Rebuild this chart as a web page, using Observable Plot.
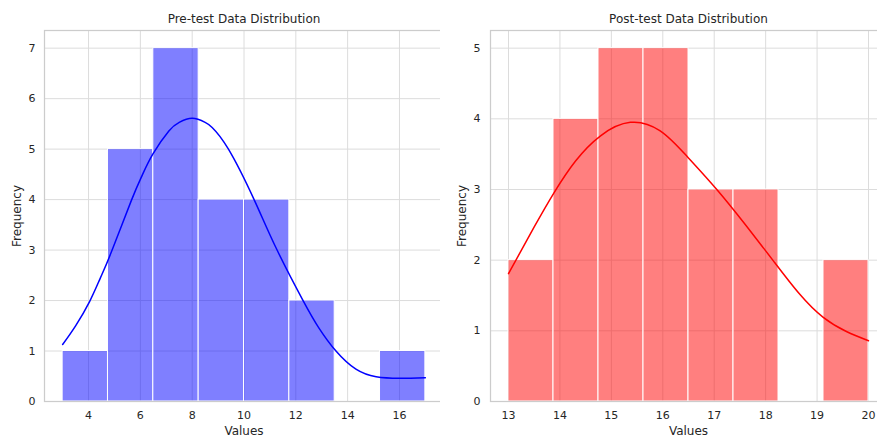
<!DOCTYPE html>
<html>
<head>
<meta charset="utf-8">
<script src="https://cdn.jsdelivr.net/npm/d3@7"></script>
<script src="https://cdn.jsdelivr.net/npm/@observablehq/plot@0.6"></script>
<style>
  html, body { margin: 0; padding: 0; background: white; }
  #wrap { position: relative; width: 877px; height: 438px; overflow: hidden; background: white; }
  #left, #right { position: absolute; top: 0; }
  #left { left: 0; width: 450px; }
  #right { left: 440px; width: 446px; }
  #wrap svg { max-width: none !important; display: block; }
</style>
</head>
<body>
<div id="wrap"><div id="left"></div><div id="right"></div></div>
<script>
// ---- Data ----
const preEdges = [3, 4.75, 6.5, 8.25, 10, 11.75, 13.5, 15.25, 17];
const preCounts = [1, 5, 7, 4, 4, 2, 0, 1];
const preKdeX = [3, 3.5, 4.04, 4.45, 4.88, 5.65, 6.07, 6.48, 7.1, 7.5, 8, 8.5, 8.77, 9.4, 10.39, 11.23, 12.28, 12.9, 13.55, 14.32, 15.1, 16, 17];
const preKdeY = [1.13, 1.5, 1.98, 2.44, 2.96, 3.98, 4.48, 4.9, 5.36, 5.53, 5.61, 5.53, 5.43, 5.0, 4.0, 3.05, 2.0, 1.45, 1.0, 0.64, 0.49, 0.46, 0.47];

const postEdges = [13, 13.875, 14.75, 15.625, 16.5, 17.375, 18.25, 19.125, 20];
const postCounts = [2, 4, 5, 5, 3, 3, 0, 2];
const postKdeX = [13, 13.5, 13.89, 14.3, 14.79, 15.37, 15.95, 16.47, 17.05, 17.63, 18.15, 18.66, 19.12, 19.57, 20];
const postKdeY = [1.81, 2.47, 2.96, 3.4, 3.76, 3.95, 3.83, 3.47, 3.0, 2.48, 1.99, 1.52, 1.19, 0.99, 0.86];

const preXTicks = [4, 6, 8, 10, 12, 14, 16];
const preYTicks = [0, 1, 2, 3, 4, 5, 6, 7];
const postXTicks = [13, 14, 15, 16, 17, 18, 19, 20];
const postYTicks = [0, 1, 2, 3, 4, 5];

function panel({edges, counts, kx, ky, color, xDomain, yDomain, xTicks, yTicks, title, width, marginLeft, marginRight, yPad, ylabDx}) {
  const bins = counts.map((c, i) => ({x1: edges[i], x2: edges[i + 1], y: c})).filter(d => d.y > 0);
  const kde = kx.map((x, i) => ({x, y: ky[i]}));
  const txt = "#262626";
  return Plot.plot({
    width, height: 438,
    marginTop: 30, marginBottom: 37, marginLeft, marginRight,
    style: {fontFamily: "DejaVu Sans", fontSize: "11px", color: txt, background: "white", overflow: "visible"},
    x: {domain: xDomain},
    y: {domain: yDomain},
    marks: [
      Plot.gridX(xTicks, {stroke: "#dcdcdc", strokeOpacity: 1, strokeWidth: 1}),
      Plot.gridY(yTicks, {stroke: "#dcdcdc", strokeOpacity: 1, strokeWidth: 1}),
      Plot.rectY(bins, {x1: "x1", x2: "x2", y: "y", fill: color, fillOpacity: 0.5, stroke: "white", strokeWidth: 1}),
      Plot.line(kde, {x: "x", y: "y", stroke: color, strokeWidth: 1.5, curve: "natural"}),
      Plot.frame({stroke: "#cccccc", strokeWidth: 1.25}),
      Plot.axisX(xTicks, {tickSize: 0, tickPadding: 10, label: null, fill: txt, fontSize: 11, tickFormat: d => String(d)}),
      Plot.axisY(yTicks, {tickSize: 0, tickPadding: yPad, label: null, fill: txt, fontSize: 11, tickFormat: d => String(d)}),
      Plot.text([title], {frameAnchor: "top", dy: -11, lineAnchor: "middle", fontSize: 12, fill: txt}),
      Plot.text(["Values"], {frameAnchor: "bottom", dy: 30, lineAnchor: "middle", fontSize: 12, fill: txt}),
      Plot.text(["Frequency"], {frameAnchor: "left", dx: ylabDx, rotate: -90, textAnchor: "middle", lineAnchor: "middle", fontSize: 12, fill: txt})
    ]
  });
}

document.getElementById("left").appendChild(panel({
  edges: preEdges, counts: preCounts, kx: preKdeX, ky: preKdeY, color: "blue",
  xDomain: [2.3, 17.7], yDomain: [0, 7.35], xTicks: preXTicks, yTicks: preYTicks,
  title: "Pre-test Data Distribution", width: 450, marginLeft: 44, marginRight: 7, yPad: 9, ylabDx: -27
}));
document.getElementById("right").appendChild(panel({
  edges: postEdges, counts: postCounts, kx: postKdeX, ky: postKdeY, color: "red",
  xDomain: [12.65, 20.35], yDomain: [0, 5.25], xTicks: postXTicks, yTicks: postYTicks,
  title: "Post-test Data Distribution", width: 446, marginLeft: 50, marginRight: 0, yPad: 10, ylabDx: -28
}));
</script>
</body>
</html>
